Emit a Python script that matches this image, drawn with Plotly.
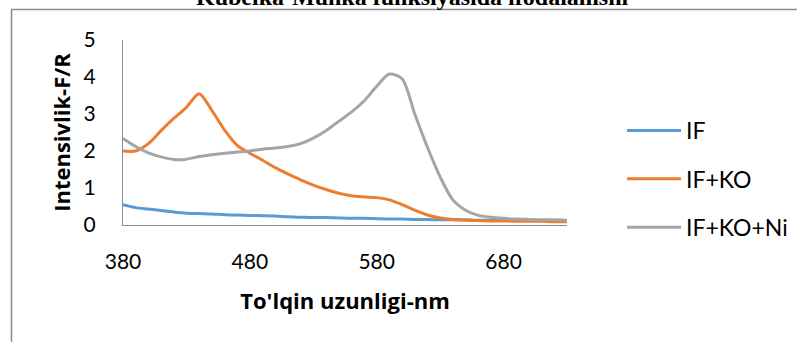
import plotly.graph_objects as go

wavelength = list(range(380, 740, 10))

if_vals = [0.55, 0.47, 0.43, 0.39, 0.35, 0.32, 0.31, 0.30, 0.28, 0.27,
           0.26, 0.25, 0.24, 0.22, 0.21, 0.20, 0.20, 0.19, 0.18, 0.18,
           0.17, 0.16, 0.16, 0.15, 0.15, 0.14, 0.14, 0.14, 0.13, 0.13,
           0.13, 0.13, 0.12, 0.12, 0.12, 0.12]

if_ko_vals = [2.00, 2.00, 2.20, 2.55, 2.88, 3.18, 3.55, 3.10, 2.57, 2.15,
              1.94, 1.75, 1.55, 1.38, 1.22, 1.08, 0.96, 0.86, 0.79, 0.76,
              0.74, 0.68, 0.55, 0.40, 0.27, 0.19, 0.15, 0.13, 0.12, 0.11,
              0.11, 0.10, 0.10, 0.10, 0.09, 0.09]

if_ko_ni_vals = [2.34, 2.12, 1.95, 1.84, 1.77, 1.78, 1.85, 1.90, 1.94, 1.97,
                 2.00, 2.05, 2.08, 2.12, 2.20, 2.35, 2.55, 2.80, 3.05, 3.35,
                 3.75, 4.08, 3.95, 3.00, 2.10, 1.30, 0.68, 0.40, 0.26, 0.21,
                 0.18, 0.16, 0.15, 0.14, 0.14, 0.13]

series_names = ["IF", "IF+KO", "IF+KO+Ni"]
series_colors = ["#5B9BD5", "#ED7D31", "#A5A5A5"]
x_ticks = [380, 480, 580, 680]
y_ticks = [0, 1, 2, 3, 4, 5]

title_text = "Kubelka-Munka funksiyasida ifodalanishi"
x_title = "To'lqin uzunligi-nm"
y_title = "Intensivlik-F/R"

W, H = 797, 342
ML, MR, MT, MB = 123, 230, 40, 117
PW, PH = W - ML - MR, H - MT - MB


def px_x(p):
    return (p - ML) / PW


def px_y(p):
    return (H - MB - p) / PH


fig = go.Figure()
for i, (name, vals) in enumerate(zip(series_names, [if_vals, if_ko_vals, if_ko_ni_vals])):
    fig.add_trace(go.Scatter(
        x=wavelength, y=vals, name=name, mode="lines",
        line=dict(color=series_colors[i], width=3, shape="spline", smoothing=0.8),
        legendgroup=name,
    ))

font_main = "Lato, Carlito, Calibri, sans-serif"
font_bold = "Open Sans, Carlito, Calibri, sans-serif"

fig.update_layout(
    width=W, height=H,
    margin=dict(l=ML, r=MR, t=MT, b=MB, autoexpand=False),
    paper_bgcolor="white", plot_bgcolor="white",
    showlegend=True,
    legend=dict(
        x=px_x(622), y=px_y(109), xanchor="left", yanchor="top",
        font=dict(family=font_main, size=23, color="#000000"),
        traceorder="grouped", tracegroupgap=15.5, itemwidth=54,
        bgcolor="rgba(0,0,0,0)",
    ),
    xaxis=dict(
        range=[380, 730], tickvals=x_ticks, ticktext=[str(t) for t in x_ticks],
        showline=True, linecolor="#8C8C8C", linewidth=1, showgrid=False,
        zeroline=False, ticks="", ticklabelstandoff=18, automargin=False,
        tickfont=dict(family=font_main, size=21, color="#000000"),
        title=dict(text="<b>" + x_title + "</b>", standoff=21,
                   font=dict(family=font_bold, size=22, color="#000000")),
    ),
    yaxis=dict(
        range=[0, 5], tickvals=y_ticks,
        showline=True, linecolor="#8C8C8C", linewidth=1, showgrid=False,
        zeroline=False, ticks="", ticklabelstandoff=22, automargin=False,
        tickfont=dict(family=font_main, size=21, color="#000000"),
        title=dict(text="<b>" + y_title + "</b>", standoff=6,
                   font=dict(family=font_bold, size=22, color="#000000")),
    ),
    shapes=[
        dict(type="line", xref="paper", yref="paper",
             x0=px_x(11), x1=px_x(W + 5), y0=px_y(9.5), y1=px_y(9.5),
             line=dict(color="#8C8C8C", width=1.5)),
        dict(type="line", xref="paper", yref="paper",
             x0=px_x(11.5), x1=px_x(11.5), y0=px_y(9.5), y1=px_y(H + 5),
             line=dict(color="#8C8C8C", width=1.5)),
    ],
    annotations=[
        dict(text="<b>" + title_text + "</b>", xref="paper", yref="paper",
             x=px_x(412), y=px_y(12), xanchor="center", yanchor="bottom",
             showarrow=False,
             font=dict(family="Liberation Serif, Times New Roman, serif", size=24, color="#000000")),
    ],
)

fig.write_html(
    "out.html",
    config={"displayModeBar": False},
    post_script="document.body.style.margin='0';document.body.style.overflow='hidden';",
)
